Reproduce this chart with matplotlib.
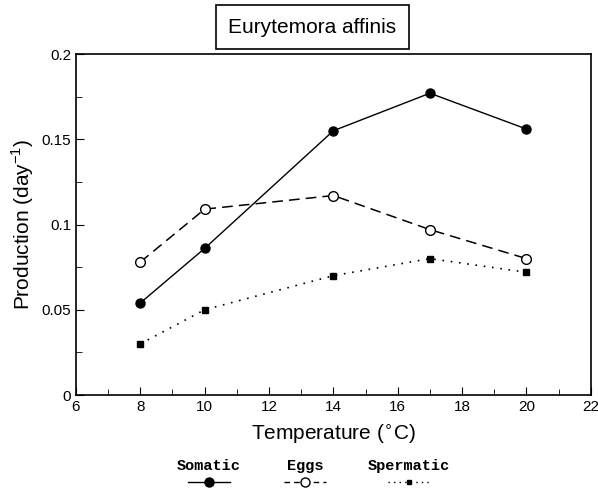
import matplotlib
matplotlib.use("Agg")
import matplotlib.pyplot as plt
from matplotlib.lines import Line2D
from matplotlib.ticker import MultipleLocator

plt.rcParams['font.family'] = ['Liberation Sans', 'DejaVu Sans']

# temperatures (deg C) and production rates
temp = [8, 10, 14, 17, 20]
somatic = [0.054, 0.086, 0.155, 0.177, 0.156]
eggs = [0.078, 0.109, 0.117, 0.097, 0.080]
spermatic = [0.030, 0.050, 0.070, 0.080, 0.072]

fig = plt.figure(figsize=(5.98, 4.91), dpi=100)
ax = fig.add_axes([0.127, 0.1955, 0.861, 0.6945])

ax.plot(temp, somatic, '-', color='black', lw=1, marker='o', ms=6.5,
        mfc='black', mec='black')
ax.plot(temp, eggs, color='black', lw=1.1, ls=(0, (7, 4)), marker='o', ms=7,
        mfc='white', mec='black', mew=1)
ax.plot(temp, spermatic, color='black', lw=1.2, ls=(0, (1, 4)), marker='s',
        ms=4, mfc='black', mec='black')

ax.set_xlim(6, 22)
ax.set_ylim(0, 0.2)
ax.xaxis.set_major_locator(MultipleLocator(2))
ax.xaxis.set_minor_locator(MultipleLocator(1))
ax.yaxis.set_minor_locator(MultipleLocator(0.025))
ax.set_yticks([0, 0.05, 0.1, 0.15, 0.2])
ax.set_yticklabels(['0', '0.05', '0.1', '0.15', '0.2'])
ax.tick_params(which='both', direction='in', labelsize=11)
ax.tick_params(which='major', length=6)
ax.tick_params(which='minor', length=4)
for s in ax.spines.values():
    s.set_linewidth(1.2)

ax.set_xlabel('Temperature ($^{\\circ}$C)', fontsize=15, labelpad=6)
ax.set_ylabel('Production (day$^{\\mathregular{-1}}$)', fontsize=15, labelpad=4)

fig.text(0.522, 0.944, 'Eurytemora affinis', ha='center', va='center',
         fontsize=15,
         bbox=dict(boxstyle='square,pad=0.6', fc='white', ec='black', lw=1.2))

# legend below the axes: name above a line sample
entries = [
    ('Somatic', 0.349, dict(ls='-', marker='o', ms=6.5, mfc='black')),
    ('Eggs', 0.510, dict(ls=(0, (4, 3)), marker='o', ms=6.5, mfc='white')),
    ('Spermatic', 0.684, dict(ls=(0, (1, 3)), marker='s', ms=3.5, mfc='black')),
]
for name, xc, style in entries:
    fig.text(xc, 0.050, name, ha='center', va='center', fontsize=11,
             family='Liberation Mono', weight='bold')
    fig.add_artist(Line2D([xc - 0.035, xc, xc + 0.035], [0.019] * 3,
                          transform=fig.transFigure, color='black', lw=1,
                          mec='black', markevery=[1], **style))

fig.savefig('out.png', dpi=100)
